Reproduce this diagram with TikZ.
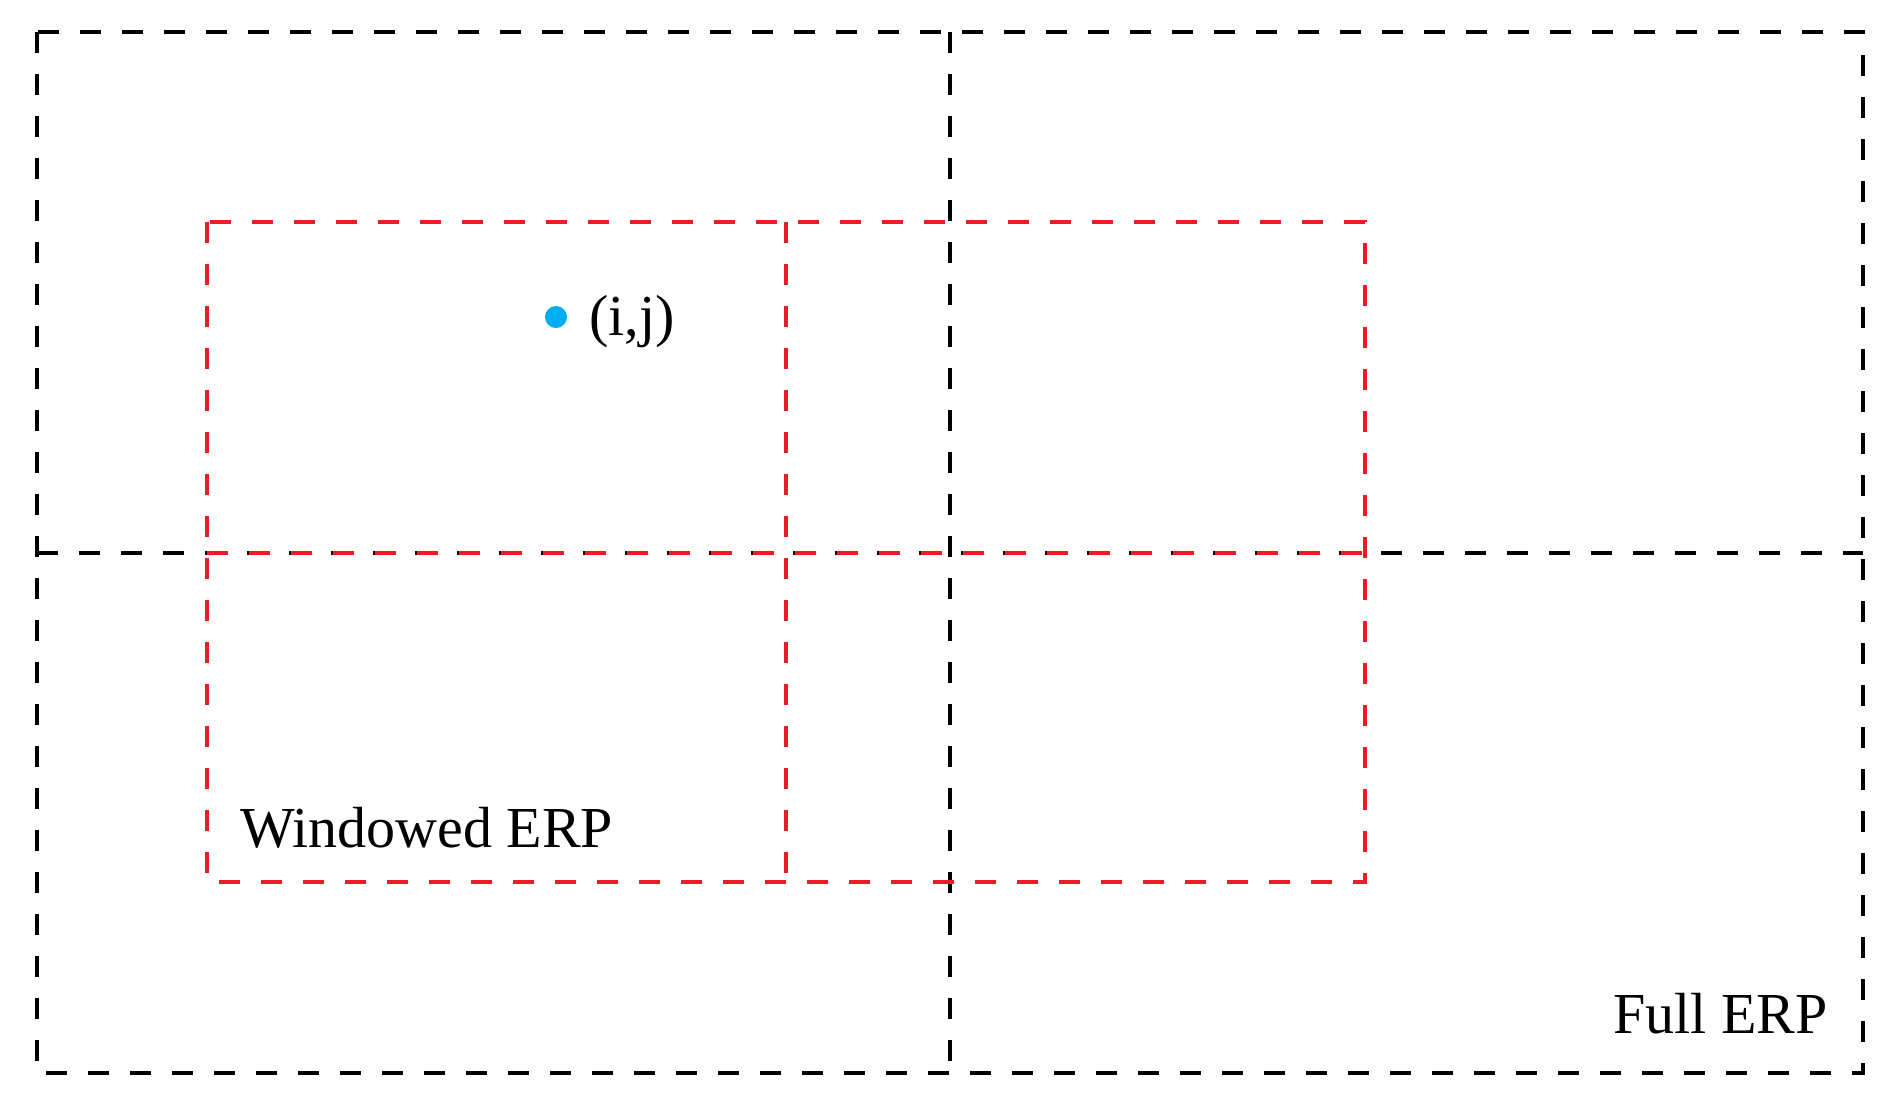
\documentclass[tikz,border=0pt]{standalone}
\usepackage{fontspec}
\setmainfont{Liberation Serif}
\definecolor{winred}{HTML}{ED1C24}
\definecolor{dotblue}{HTML}{00AEEF}
\begin{document}
\begin{tikzpicture}[x=1pt,y=-1pt,
  fullline/.style={draw=black,line width=4pt,dash pattern=on 21pt off 21pt},
  winline/.style={draw=winred,line width=4pt,dash pattern=on 21pt off 21pt},
  lbl/.style={anchor=base west,inner sep=0pt,font=\fontsize{58}{70}\selectfont}]
\useasboundingbox (0,0) rectangle (1892,1104);
% full ERP
\coordinate (ftl) at (37,32);
\coordinate (fbr) at (1863,1073);
\draw[fullline] (ftl) rectangle (fbr);
\coordinate (fvt) at (950,32);
\coordinate (fvb) at (950,1073);
\coordinate (fhl) at (37,553);
\coordinate (fhr) at (1863,553);
\draw[fullline] (fvt) -- (fvb);
\draw[fullline] (fhl) -- (fhr);
% windowed ERP
\coordinate (wtl) at (207,222);
\coordinate (wbr) at (1365,882);
\draw[winline] (wtl) rectangle (wbr);
\coordinate (wvt) at (786,222);
\coordinate (wvb) at (786,882);
\coordinate (whl) at (207,553);
\coordinate (whr) at (1365,553);
\draw[winline] (wvt) -- (wvb);
\draw[winline] (whl) -- (whr);
% point
\fill[dotblue] (556,317) circle (11pt);
\node[lbl] (ij) at (589,335) {(i,j)};
\node[lbl] (win) at (240,847) {Windowed ERP};
\node[lbl] (full) at (1613,1033) {Full ERP};
\end{tikzpicture}
\end{document}
